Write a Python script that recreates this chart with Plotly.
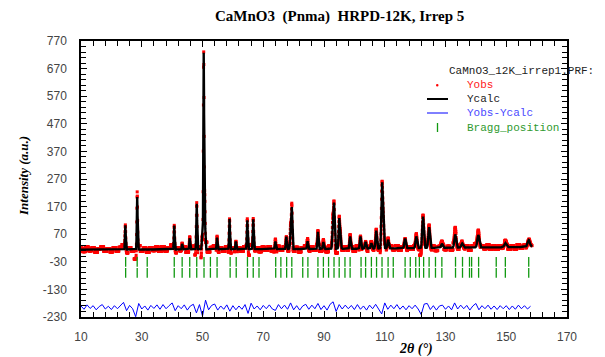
import numpy as np
import plotly.graph_objects as go

# ---------------- data ----------------
# peak positions (2theta, deg), calculated / observed heights above background, FWHM (deg)
peak_pos = [24.6, 28.5, 40.7, 43.3, 45.8, 48.1, 49.9, 50.4, 50.75, 54.8,
            58.9, 61.0, 64.75, 66.7, 74.0, 77.6, 79.0, 79.4, 84.6, 88.0,
            89.8, 92.9, 93.3, 95.0, 95.4, 98.6, 102.0, 103.7, 105.6, 107.2,
            109.1, 109.5, 111.1, 116.7, 120.4, 122.6, 124.6, 128.8, 133.2, 135.5,
            140.8, 149.7, 157.4]
peak_calc = [88, 190, 87, 20, 40, 165, 50, 708, 180, 42,
             110, 28, 105, 108, 28, 45, 70, 150, 28, 62,
             25, 105, 160, 107, 50, 45, 45, 25, 20, 65,
             222, 90, 32, 35, 42, 114, 75, 15, 48, 15,
             45, 15, 25]
peak_obs = [91, 208, 89, 25, 45, 171, 55, 712, 180, 50,
            112, 32, 113, 112, 40, 47, 85, 162, 40, 64,
            32, 108, 165, 113, 52, 50, 48, 30, 28, 68,
            228, 92, 40, 38, 50, 118, 85, 20, 70, 20,
            65, 22, 28]
peak_fwhm = [0.30, 0.30, 0.30, 0.30, 0.30, 0.30, 0.30, 0.30, 0.30, 0.32,
             0.32, 0.32, 0.34, 0.34, 0.36, 0.36, 0.36, 0.36, 0.38, 0.40,
             0.40, 0.40, 0.40, 0.42, 0.42, 0.45, 0.45, 0.48, 0.48, 0.50,
             0.50, 0.50, 0.52, 0.55, 0.58, 0.58, 0.60, 0.62, 0.65, 0.68,
             0.72, 0.80, 0.90]

# background level nodes
bkg_x = [10, 50, 100, 130, 158.5]
bkg_y = [14, 15, 17, 21, 24]

# Yobs - Ycalc at 1 degree steps (10 .. 158)
diff_deg = list(range(10, 159))
diff_val = [5, -7, 9, -4, 6, -9, 3, 10, -6, 4,
            -8, 6, -5, 8, 18, -12, 7, -5, -34, 14,
            -6, 5, -10, 7, -4, 9, -7, 10, -5, 6,
            16, -12, 6, -5, 9, -10, 5, 11, -20, 10,
            -32, 26, -9, 7, 12, -10, 5, -7, 9, -14,
            6, -9, 5, -7, 10, -22, 15, -6, 5, -9,
            7, -5, 9, -6, -11, 10, -5, 8, -7, 16,
            -9, 6, -10, 5, 11, -7, 8, -5, 14, -8,
            6, -10, 11, 20, -15, 10, -6, 8, -5, 7,
            -8, 10, -7, 5, -10, 8, -5, 11, -6, -24,
            16, -7, 8, -5, 10, -7, 5, -9, 6, -5,
            8, -6, -26, 12, 14, -8, 6, -10, 5, 8,
            -7, 5, -9, 16, -6, 8, -5, 7, -10, 5,
            14, -9, 6, -5, 8, -7, 5, -8, 6,
            -5, 6, -8, 5, -7, 8, -5, 6, -6, 4]
diff_offset = -195

# Bragg reflection positions
bragg_pos = [24.7, 28.5, 31.8, 40.7, 43.3, 45.8, 48.1, 50.5, 52.6, 54.8,
             59.1, 61.1, 64.8, 66.7, 68.6, 74.1, 75.8, 77.7, 79.4, 83.0,
             84.7, 88.0, 89.8, 91.5, 93.3, 95.0, 96.9, 98.6, 102.2, 103.7,
             105.6, 107.3, 109.1, 111.1, 112.8, 116.7, 118.4, 120.2, 121.4, 122.8,
             124.6, 126.7, 128.8, 133.3, 135.6, 137.9, 138.6, 140.9, 146.7, 149.7,
             157.4]
bragg_rows = [-30, -70]

x_ticks = [10, 30, 50, 70, 90, 110, 130, 150, 170]
y_ticks = [-230, -130, -30, 70, 170, 270, 370, 470, 570, 670, 770]

# ---------------- profile evaluation ----------------
def background(x):
    return np.interp(x, bkg_x, bkg_y)


def profile(x, heights):
    y = background(x)
    for p, h, w in zip(peak_pos, heights, peak_fwhm):
        y = y + h * np.exp(-4 * np.log(2) * (x - p) ** 2 / w ** 2)
    return y

x_calc = np.arange(10.0, 158.5, 0.02)
y_calc = profile(x_calc, peak_calc)

x_obs = np.arange(10.0, 158.5, 0.05)
noise_lookup = dict(zip(diff_deg, diff_val))
obs_noise = np.array([noise_lookup[int(round(v))] for v in x_obs])
obs_model = profile(x_obs, peak_obs)
# residual scatter belongs to the background; peak tops keep their read heights
y_obs = obs_model + obs_noise * background(x_obs) / obs_model

y_diff = np.array(diff_val) + diff_offset

# ---------------- figure ----------------
fig = go.Figure()
fig.add_trace(go.Scatter(x=x_obs, y=y_obs, mode="markers",
                         marker=dict(symbol="square", size=3, color="#ff0000", line=dict(width=0)),
                         showlegend=False))
fig.add_trace(go.Scatter(x=x_calc, y=y_calc, mode="lines",
                         line=dict(color="black", width=2.4), showlegend=False))
fig.add_trace(go.Scatter(x=diff_deg, y=y_diff, mode="lines",
                         line=dict(color="#0000ff", width=1), showlegend=False))
for r in bragg_rows:
    fig.add_trace(go.Scatter(x=bragg_pos, y=[r] * len(bragg_pos), mode="markers",
                             marker=dict(symbol="line-ns", size=7,
                                         line=dict(color="#119911", width=1.3)),
                             showlegend=False))

L, R, T, B = 81, 567, 41, 317
W, H = 605, 357


def px(x):
    return (x - L) / (R - L)


def py(y):
    return (B - y) / (B - T)


mono = "Liberation Mono, Courier New, monospace"
serif = "Liberation Serif, Times New Roman, serif"

annotations = [
    dict(text="<b>CaMnO3&nbsp; (Pnma)&nbsp; HRPD-12K, Irrep 5</b>", x=px(339), y=py(16),
         font=dict(family=serif, size=15, color="black")),
    dict(text="<b><i>Intensity (a.u.)</i></b>", x=px(23), y=py(176), textangle=-90,
         font=dict(family=serif, size=13, color="black")),
    dict(text="<b><i>2θ (°)</i></b>", x=px(416), y=py(349),
         font=dict(family=serif, size=14, color="black")),
    dict(text="CaMnO3_12K_irrep1.PRF:", x=px(447), y=py(71), xanchor="left",
         font=dict(family=mono, size=11, color="#222222")),
    dict(text="Yobs", x=px(465), y=py(85), xanchor="left",
         font=dict(family=mono, size=11, color="#ff2020")),
    dict(text="Ycalc", x=px(465), y=py(99), xanchor="left",
         font=dict(family=mono, size=11, color="#222222")),
    dict(text="Yobs-Ycalc", x=px(465), y=py(113), xanchor="left",
         font=dict(family=mono, size=11, color="#4a4aff")),
    dict(text="Bragg_position", x=px(465), y=py(128), xanchor="left",
         font=dict(family=mono, size=11, color="#2f9a2f")),
]
for a in annotations:
    a.update(xref="paper", yref="paper", showarrow=False)
    a.setdefault("xanchor", "center")
    a.setdefault("yanchor", "middle")

shapes = [
    dict(type="circle", x0=px(436), x1=px(438.5), y0=py(86.5), y1=py(84),
         fillcolor="#ff0000", line=dict(width=0)),
    dict(type="line", x0=px(427), x1=px(448), y0=py(99), y1=py(99),
         line=dict(color="black", width=2)),
    dict(type="line", x0=px(427), x1=px(448), y0=py(113), y1=py(113),
         line=dict(color="#0000ff", width=1)),
    dict(type="line", x0=px(437.5), x1=px(437.5), y0=py(123), y1=py(132),
         line=dict(color="#119911", width=1.3)),
]
for s in shapes:
    s.update(xref="paper", yref="paper")

tickfont = dict(family="Liberation Sans, Arial, sans-serif", size=12, color="#444444")

fig.update_layout(
    width=W, height=H,
    margin=dict(l=L, r=W - R, t=T, b=H - B, pad=0),
    paper_bgcolor="white", plot_bgcolor="white",
    showlegend=False,
    annotations=annotations, shapes=shapes,
    xaxis=dict(range=[10, 170], tickvals=x_ticks, ticktext=[str(v) for v in x_ticks],
               ticks="inside", ticklen=6, tickwidth=1, tickcolor="black",
               showline=True, linecolor="black", linewidth=1.5, mirror="ticks",
               showgrid=False, zeroline=False, tickfont=tickfont, ticklabelstandoff=8,
               minor=dict(tick0=10, dtick=4, ticks="inside", ticklen=5,
                          tickcolor="black", tickwidth=1, showgrid=False)),
    yaxis=dict(range=[-230, 770], tickvals=y_ticks, ticktext=[str(v) for v in y_ticks],
               ticks="inside", ticklen=6, tickwidth=1, tickcolor="black",
               showline=True, linecolor="black", linewidth=1.5, mirror="ticks",
               showgrid=False, zeroline=False, tickfont=tickfont, ticklabelstandoff=10,
               minor=dict(tick0=-230, dtick=20, ticks="inside", ticklen=5,
                          tickcolor="black", tickwidth=1, showgrid=False)),
)

fig.write_html("out.html", config={"displayModeBar": False},
               post_script="document.body.style.margin='0';document.body.style.overflow='hidden';")
